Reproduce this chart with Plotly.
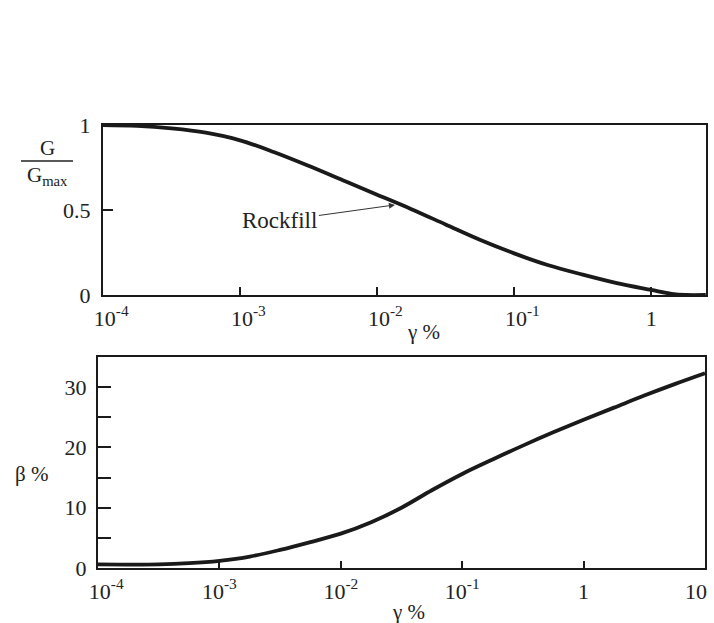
import plotly.graph_objects as go

W, H = 714, 623

# ---- data ----
gamma_top = [0.0001, 0.000178, 0.000316, 0.000562, 0.001, 0.00178, 0.00316, 0.00562,
             0.01, 0.0178, 0.0316, 0.0562, 0.1, 0.178, 0.316, 0.562, 1.0, 1.41, 1.78, 2.5]
g_ratio = [1.0, 0.995, 0.98, 0.955, 0.91, 0.84, 0.76, 0.675,
           0.59, 0.505, 0.415, 0.325, 0.245, 0.175, 0.12, 0.07, 0.03, 0.007, 0.0, 0.0]

gamma_bot = [0.0001, 0.000316, 0.000562, 0.001, 0.00178, 0.00316, 0.00562,
             0.01, 0.0178, 0.0316, 0.0562, 0.1, 0.178, 0.316, 0.562,
             1.0, 1.78, 3.16, 5.62, 10.0]
beta = [0.6, 0.6, 0.8, 1.2, 1.9, 3.0, 4.3,
        5.7, 7.6, 10.0, 12.9, 15.6, 18.0, 20.3, 22.5,
        24.6, 26.6, 28.6, 30.5, 32.3]

NB = "\u00a0"
x_top_ticks = [0.0001, 0.001, 0.01, 0.1, 1]
x_top_text = [NB * 3 + "10<sup>-4</sup>", NB * 3 + "10<sup>-3</sup>",
              NB * 3 + "10<sup>-2</sup>", NB * 3 + "10<sup>-1</sup>", "1"]
x_bot_ticks = [0.0001, 0.001, 0.01, 0.1, 1, 10]
x_bot_text = [NB * 3 + "10<sup>-4</sup>", "10<sup>-3</sup>", "10<sup>-2</sup>",
              "10<sup>-1</sup>", "1", ""]
last_bot_tick, last_bot_label = 10, "10"
y_top_ticks = [0, 0.5, 1]
y_top_text = ["0", "0.5", "1"]
y_bot_ticks = [0, 5, 10, 15, 20, 25, 30]
y_bot_text = ["0", "", "10", "", "20", "", "30"]

annot_label = "Rockfill"
annot_x, annot_y = 0.0135, 0.53

FONT = "Liberation Serif, Times New Roman, serif"
INK = "#1a1a1a"

fig = go.Figure()
fig.add_trace(go.Scatter(x=gamma_top, y=g_ratio, mode="lines",
                         line=dict(color=INK, width=3.8, shape="spline", smoothing=1),
                         xaxis="x", yaxis="y", showlegend=False))
fig.add_trace(go.Scatter(x=gamma_bot, y=beta, mode="lines",
                         line=dict(color=INK, width=3.8, shape="spline", smoothing=1),
                         xaxis="x2", yaxis="y2", showlegend=False))

def px(x):
    return x / W

def py(y):
    return 1 - y / H

tickfont = dict(family=FONT, size=22, color="#222")
axis_common = dict(showline=True, linecolor=INK, linewidth=2.2, mirror=True,
                   showgrid=False, zeroline=False, ticks="inside",
                   tickcolor=INK, tickwidth=1.5, automargin=False,
                   tickfont=tickfont)

fig.update_layout(
    width=W, height=H,
    margin=dict(l=0, r=0, t=0, b=0),
    paper_bgcolor="white", plot_bgcolor="white",
    template="none",
    showlegend=False,
    xaxis=dict(axis_common, type="log", range=[-4, 0.40],
               domain=[px(103), px(706)], anchor="y",
               tickvals=x_top_ticks, ticktext=x_top_text, ticklen=8,
               ticklabelstandoff=2, ticklabeloverflow="allow"),
    yaxis=dict(axis_common, range=[0, 1],
               domain=[py(295), py(125)], anchor="x",
               tickvals=y_top_ticks, ticktext=y_top_text, ticklen=10,
               ticklabelstandoff=6),
    xaxis2=dict(axis_common, type="log", range=[-4, 1],
                domain=[px(98), px(705)], anchor="y2",
                tickvals=x_bot_ticks, ticktext=x_bot_text, ticklen=7,
                ticklabelstandoff=2, ticklabeloverflow="allow"),
    yaxis2=dict(axis_common, range=[0, 35],
                domain=[py(568), py(357)], anchor="x2",
                tickvals=y_bot_ticks, ticktext=y_bot_text, ticklen=13,
                ticklabelstandoff=5),
)

txt = dict(family=FONT, size=21, color="#222")
# last bottom tick label, kept inside the page
import math
fig.add_annotation(x=math.log10(last_bot_tick), y=py(591), xref="x2", yref="paper",
                   text=last_bot_label, showarrow=False, font=tickfont,
                   xanchor="right", yanchor="middle", xshift=4)
fig.add_annotation(x=-1.87, y=annot_y, xref="x", yref="y", text=annot_label,
                   showarrow=True, arrowhead=2, arrowsize=1.2, arrowwidth=1,
                   arrowcolor="#333", ax=-115, ay=16,
                   font=dict(family=FONT, size=23, color="#222"))
fig.add_annotation(x=px(47), y=py(148), xref="paper", yref="paper", text="G",
                   showarrow=False, font=txt, xanchor="center", yanchor="middle")
fig.add_annotation(x=px(47), y=py(176), xref="paper", yref="paper", text="G<sub>max</sub>",
                   showarrow=False, font=txt, xanchor="center", yanchor="middle")
fig.add_shape(type="line", xref="paper", yref="paper",
              x0=px(21), x1=px(73), y0=py(161), y1=py(161),
              line=dict(color="#222", width=1.3))
fig.add_annotation(x=px(423), y=py(332), xref="paper", yref="paper", text="γ %",
                   showarrow=False, font=txt, xanchor="center", yanchor="middle")
fig.add_annotation(x=px(408), y=py(612), xref="paper", yref="paper", text="γ %",
                   showarrow=False, font=txt, xanchor="center", yanchor="middle")
fig.add_annotation(x=px(31), y=py(474), xref="paper", yref="paper", text="β %",
                   showarrow=False, font=txt, xanchor="center", yanchor="middle")

fig.write_html("out.html")
